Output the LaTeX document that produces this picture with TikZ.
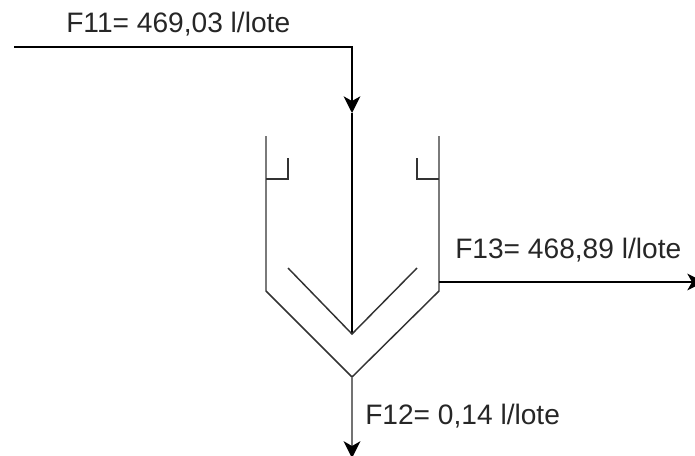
\documentclass[tikz,border=0pt]{standalone}
\usepackage{fontspec}
\setmainfont{Liberation Sans}
\usetikzlibrary{arrows.meta}
\definecolor{vesselgray}{HTML}{333333}
\tikzset{
  stream/.style={line width=1.1pt,black},
  vessel/.style={line width=1.1pt,vesselgray},
  flowlabel/.style={anchor=base west,inner sep=0pt,font=\fontsize{21.1pt}{25pt}\selectfont,text=black!85}
}
\begin{document}
\begin{tikzpicture}
    [x=0.75pt,y=-0.75pt,>={Stealth[length=12.5pt,width=12.5pt,inset=3.5pt,color=black]}]
    \useasboundingbox (0,0) rectangle (695,455);
    \node (f11) at (66,32) [flowlabel] {F11= 469,03 l/lote};
    \node (f13) at (455,258) [flowlabel] {F13= 468,89 l/lote};
    \node (f12) at (365,424) [flowlabel] {F12= 0,14 l/lote};
    \coordinate (in) at (14,47);
    \coordinate (bend) at (352,47);
    \coordinate (tip) at (352,113);
    \coordinate (inner) at (352,334);
    \coordinate (innerl) at (288,268);
    \coordinate (innerr) at (417,268);
    \coordinate (apex) at (352,377);
    \coordinate (walll) at (266,136);
    \coordinate (wallr) at (439,136);
    \coordinate (cornerl) at (266,291);
    \coordinate (cornerr) at (439,291);
    \coordinate (bafflel) at (288,158);
    \coordinate (bafflelb) at (288,179);
    \coordinate (bafflelw) at (266,179);
    \coordinate (baffler) at (417,158);
    \coordinate (bafflerb) at (417,179);
    \coordinate (bafflerw) at (439,179);
    \coordinate (side) at (439,282);
    \coordinate (sideout) at (704,282);
    \coordinate (bottom) at (352,458);
    \draw [stream,->] (in) -- (bend) -- (tip);
    \draw [stream] (tip) -- (inner);
    \draw [vessel] (innerl) -- (inner) -- (innerr);
    \draw [vessel] (walll) -- (cornerl) -- (apex) -- (cornerr) -- (wallr);
    \draw [vessel] (bafflel) -- (bafflelb) -- (bafflelw);
    \draw [vessel] (baffler) -- (bafflerb) -- (bafflerw);
    \draw [stream,->] (side) -- (sideout);
    \draw [vessel,->,line width=2pt,black!55] (apex) -- (bottom);
  \end{tikzpicture}
\end{document}
